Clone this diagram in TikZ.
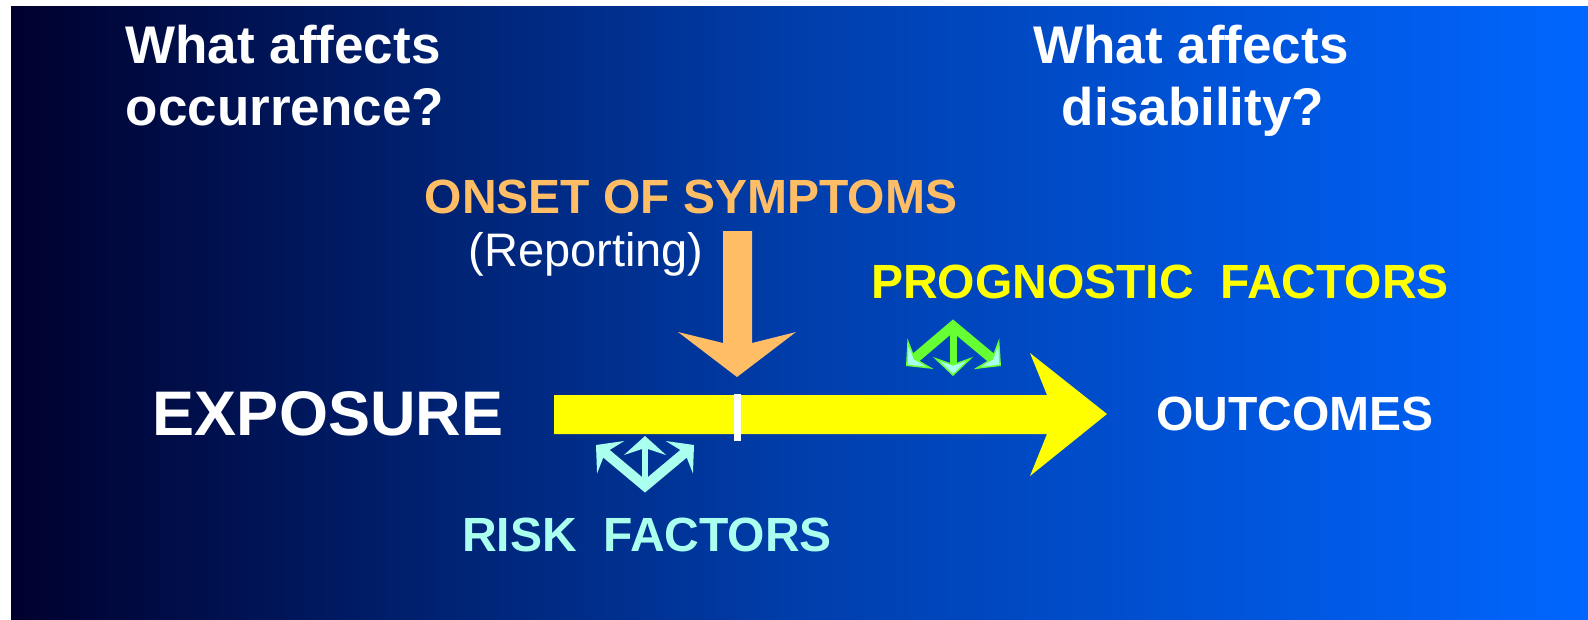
\documentclass[tikz,border=0pt]{standalone}
\usepackage{fontspec}
\setmainfont{Liberation Sans}
\usetikzlibrary{arrows.meta}
\definecolor{bgL}{RGB}{0,0,45}
\definecolor{bgM}{RGB}{0,62,172}
\definecolor{bgR}{RGB}{0,102,255}
\definecolor{orng}{RGB}{255,190,102}
\definecolor{ylw}{RGB}{255,255,0}
\definecolor{cyn}{RGB}{170,255,238}
\definecolor{grn}{RGB}{102,255,51}
\tikzset{
  cyhead/.tip={Stealth[length=19pt,width=42pt,inset=7pt]},
  grhead/.tip={Stealth[length=19pt,width=40pt,inset=7pt,fill=cyn,line width=1.5pt]},
}
\begin{document}
\begin{tikzpicture}[x=1pt,y=-1pt,
  lbl/.style={anchor=base, inner sep=0pt, font=\bfseries\fontsize{48}{48}\selectfont},
  qtxt/.style={anchor=base, inner sep=0pt, text=white, font=\bfseries\fontsize{53}{53}\selectfont},
]
\useasboundingbox (0,0) rectangle (1588,619);
\fill[white] (0,0) rectangle (1588,619);
\shade[left color=bgL, right color=bgR, middle color=bgM] (11,6) rectangle (1588,619);

% questions
\node[qtxt] (q1a) at (283,63) {What affects};
\node[qtxt] (q1b) at (285,125) {occurrence?};
\node[qtxt] (q2a) at (1191,63) {What affects};
\node[qtxt] (q2b) at (1193,125) {disability?};

% labels
\node[lbl, text=orng] (onset) at (691,213) {ONSET OF SYMPTOMS};
\node[lbl, text=white, font=\fontsize{47}{47}\selectfont] (rep) at (586,266) {(Reporting)};
\node[lbl, text=ylw] (prog) at (1160,298) {PROGNOSTIC\ \ FACTORS};
\node[lbl, text=white, font=\bfseries\fontsize{63}{63}\selectfont] (expo) at (328,435) {EXPOSURE};
\node[lbl, text=white] (out) at (1295,430) {OUTCOMES};
\node[lbl, text=cyn] (risk) at (647,551) {RISK\ \ FACTORS};

% main yellow arrow
\fill[ylw] (554,395) -- (1047,395) -- (1030,353) -- (1107,414) -- (1030,476) -- (1047,434) -- (554,434) -- cycle;
\fill[white] (734,394) rectangle (741,441);

% orange arrow
\fill[orng] (723,231) -- (752,231) -- (752,343) -- (796,332) -- (737,377) -- (678,332) -- (723,343) -- cycle;

% risk factors triple arrow
\coordinate (rb) at (645,486);
\coordinate (rl) at (596,445);
\coordinate (ru) at (645,436);
\coordinate (rr) at (694,445);
\draw[cyn, line width=10pt, cyhead-cyhead] (rl) -- (rb) -- (rr);
\draw[cyn, line width=6pt, -cyhead] (rb) -- (ru);

% prognostic factors triple arrow
\coordinate (gt) at (953,326);
\coordinate (gl) at (906,366);
\coordinate (gd) at (953,376);
\coordinate (gr) at (1001,366);
\draw[grn, line width=10pt, grhead-grhead] (gl) -- (gt) -- (gr);
\draw[grn, line width=7pt, -grhead] (gt) -- (gd);
\end{tikzpicture}
\end{document}
